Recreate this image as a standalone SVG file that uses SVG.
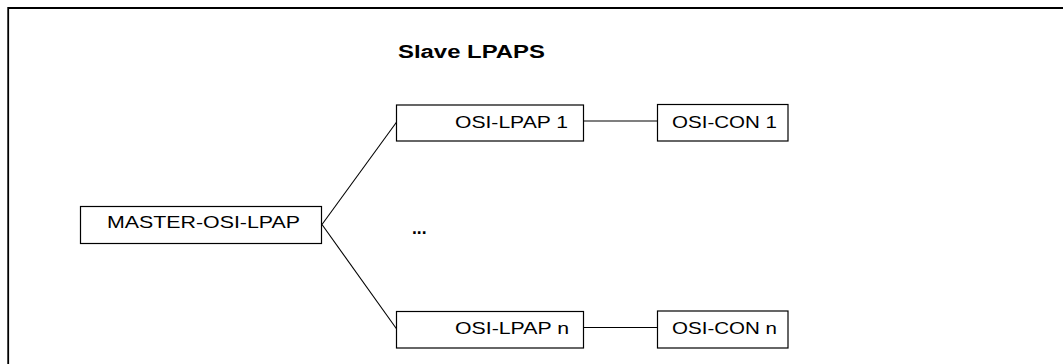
<svg xmlns="http://www.w3.org/2000/svg" width="1063" height="364" viewBox="0 0 1063 364">
  <style>
    .box { fill: #ffffff; stroke: #000000; stroke-width: 1.2; }
    .lbl { font-family: "Liberation Sans", Arial, sans-serif; font-size: 17px; fill: #000000; }
    .title { font-family: "Liberation Sans", Arial, sans-serif; font-size: 17.5px; font-weight: bold; fill: #000000; }
    .conn { fill: none; stroke: #000000; stroke-width: 1.1; }
    .frame { fill: none; stroke: #000000; stroke-width: 1.8; }
  </style>
  <rect x="0" y="0" width="1063" height="364" fill="#ffffff"/>
  <path class="frame" d="M8.2,364 V8 H1063"/>
  <text class="title" x="398" y="57.5" textLength="147" lengthAdjust="spacingAndGlyphs">Slave LPAPS</text>
  <g id="connectors">
    <line class="conn" x1="322" y1="224.5" x2="397" y2="121.5"/>
    <line class="conn" x1="322" y1="224.5" x2="397" y2="329.5"/>
    <line class="conn" x1="583.5" y1="121" x2="657" y2="121"/>
    <line class="conn" x1="583.5" y1="327.5" x2="657" y2="327.5"/>
  </g>
  <g id="master">
    <rect class="box" x="80.5" y="206.5" width="241" height="37"/>
    <text class="lbl" x="107" y="227.5" textLength="193" lengthAdjust="spacingAndGlyphs">MASTER-OSI-LPAP</text>
  </g>
  <g id="lpap1">
    <rect class="box" x="396.5" y="105" width="187" height="36"/>
    <text class="lbl" x="455" y="127.5" textLength="113" lengthAdjust="spacingAndGlyphs">OSI-LPAP 1</text>
  </g>
  <g id="con1">
    <rect class="box" x="657.5" y="104.5" width="130.5" height="36.5"/>
    <text class="lbl" x="672" y="127.5" textLength="105" lengthAdjust="spacingAndGlyphs">OSI-CON 1</text>
  </g>
  <g id="ellipsis">
    <text class="title" x="412" y="233.5">...</text>
  </g>
  <g id="lpapn">
    <rect class="box" x="396.5" y="311.5" width="187" height="36.5"/>
    <text class="lbl" x="455" y="333.5" textLength="114" lengthAdjust="spacingAndGlyphs">OSI-LPAP n</text>
  </g>
  <g id="conn">
    <rect class="box" x="657.5" y="311" width="130.5" height="37"/>
    <text class="lbl" x="672" y="333.5" textLength="105" lengthAdjust="spacingAndGlyphs">OSI-CON n</text>
  </g>
</svg>
